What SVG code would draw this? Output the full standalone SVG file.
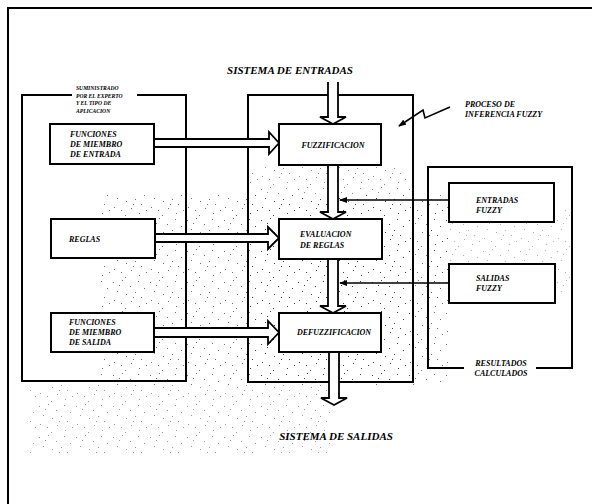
<svg xmlns="http://www.w3.org/2000/svg" width="592" height="504" viewBox="0 0 592 504">
<defs>
<style>
.frame{fill:none;stroke:#000;stroke-width:2}
.box{fill:#fff;stroke:#000;stroke-width:2}
.arr{fill:#fff;stroke:#000;stroke-width:1.8;stroke-linejoin:miter}
.ln{fill:none;stroke:#000;stroke-width:1.6}
.t{font-family:"Liberation Serif","Times New Roman",serif;font-weight:bold;font-style:italic;fill:#000}
.s8{font-size:8px}
.s6{font-size:5.6px}
.s11{font-size:11px}
</style>
<pattern id="dots" width="37" height="31" patternUnits="userSpaceOnUse">
<rect x="2" y="3" width="1" height="1" fill="#000"/>
<rect x="11" y="1" width="1" height="1" fill="#000"/>
<rect x="19" y="7" width="1" height="1" fill="#000"/>
<rect x="27" y="2" width="1" height="1" fill="#000"/>
<rect x="33" y="9" width="1" height="1" fill="#000"/>
<rect x="6" y="12" width="1" height="1" fill="#000"/>
<rect x="15" y="15" width="1" height="1" fill="#000"/>
<rect x="24" y="13" width="1" height="1" fill="#000"/>
<rect x="30" y="18" width="1" height="1" fill="#000"/>
<rect x="3" y="21" width="1" height="1" fill="#000"/>
<rect x="10" y="24" width="1" height="1" fill="#000"/>
<rect x="20" y="22" width="1" height="1" fill="#000"/>
<rect x="28" y="27" width="1" height="1" fill="#000"/>
<rect x="35" y="24" width="1" height="1" fill="#000"/>
<rect x="14" y="29" width="1" height="1" fill="#000"/>
<rect x="8" y="6" width="1" height="1" fill="#000"/>
<rect x="22" y="18" width="1" height="1" fill="#000"/>
</pattern>
<marker id="ah" markerWidth="8" markerHeight="6" refX="7" refY="3" orient="auto" markerUnits="userSpaceOnUse">
<path d="M0,0 L8,3 L0,6 Z" fill="#000"/>
</marker>
</defs>
<rect width="592" height="504" fill="#fff"/>
<!-- stipple texture -->
<rect x="100" y="195" width="350" height="190" fill="url(#dots)" opacity="0.55"/>
<rect x="250" y="165" width="160" height="215" fill="url(#dots)" opacity="0.45"/>
<rect x="30" y="385" width="300" height="70" fill="url(#dots)" opacity="0.4"/>
<rect x="430" y="210" width="140" height="90" fill="url(#dots)" opacity="0.3"/>

<!-- outer frame -->
<path class="frame" d="M8,504 V8 H592"/>

<text class="t s11" x="290" y="74" text-anchor="middle">SISTEMA DE ENTRADAS</text>
<text class="t s11" x="336" y="440" text-anchor="middle">SISTEMA DE SALIDAS</text>

<!-- group boxes -->
<g id="grupo-experto">
<path class="frame" d="M72,95 H22 V381 H186 V95 H137"/>
<text class="t s6" x="76" y="90">SUMINISTRADO</text>
<text class="t s6" x="76" y="97.5">POR EL EXPERTO</text>
<text class="t s6" x="76" y="105">Y EL TIPO DE</text>
<text class="t s6" x="76" y="112.5">APLICACION</text>
</g>
<g id="grupo-proceso">
<rect class="frame" x="248" y="95" width="165" height="287"/>
<text class="t s8" x="465" y="107">PROCESO DE</text>
<text class="t s8" x="465" y="117">INFERENCIA FUZZY</text>
</g>
<g id="grupo-resultados">
<path class="frame" d="M464,368 H428 V167 H572 V368 H536"/>
<text class="t s8" x="501" y="366" text-anchor="middle">RESULTADOS</text>
<text class="t s8" x="501" y="376" text-anchor="middle">CALCULADOS</text>
</g>

<!-- connectors -->
<g id="conectores">
<path class="arr" d="M328,82 V117 H320 L333,124 L346,117 H338 V82"/>
<path class="arr" d="M328,165 V212 H320 L333,219 L346,212 H338 V165"/>
<path class="arr" d="M328,259 V306 H320 L333,313 L346,306 H338 V259"/>
<path class="arr" d="M329,352 V398 H321 L334,405 L347,398 H339 V352"/>
<path class="arr" d="M154,139 H269 V132 L279,143 L269,154 V147 H154"/>
<path class="arr" d="M155,234 H268 V227 L279,238 L268,249 V242 H155"/>
<path class="arr" d="M154,328 H268 V321 L279,332.5 L268,344 V337 H154"/>
<path class="ln" d="M449,200 H340" marker-end="url(#ah)"/>
<path class="ln" d="M449,283 H340" marker-end="url(#ah)"/>
<path class="ln" d="M450,107 L425,118 L423,110 L399,126" marker-end="url(#ah)"/>
</g>

<!-- nodes -->
<g id="funciones-entrada">
<rect class="box" x="50" y="124" width="104" height="40"/>
<text class="t s8" x="70" y="137">FUNCIONES</text>
<text class="t s8" x="70" y="147">DE MIEMBRO</text>
<text class="t s8" x="70" y="157">DE ENTRADA</text>
</g>
<g id="reglas">
<rect class="box" x="51" y="219" width="104" height="39"/>
<text class="t s8" x="69" y="242">REGLAS</text>
</g>
<g id="funciones-salida">
<rect class="box" x="51" y="313" width="103" height="39"/>
<text class="t s8" x="69" y="325">FUNCIONES</text>
<text class="t s8" x="69" y="335">DE MIEMBRO</text>
<text class="t s8" x="69" y="345">DE SALIDA</text>
</g>
<g id="fuzzificacion">
<rect class="box" x="279" y="124" width="102" height="41"/>
<text class="t s8" x="333" y="148" text-anchor="middle">FUZZIFICACION</text>
</g>
<g id="evaluacion">
<rect class="box" x="279" y="219" width="103" height="40"/>
<text class="t s8" x="300" y="237">EVALUACION</text>
<text class="t s8" x="300" y="248">DE REGLAS</text>
</g>
<g id="defuzzificacion">
<rect class="box" x="279" y="313" width="102" height="39"/>
<text class="t s8" x="334" y="335" text-anchor="middle">DEFUZZIFICACION</text>
</g>
<g id="entradas-fuzzy">
<rect class="box" x="449" y="183" width="105" height="39"/>
<text class="t s8" x="476" y="203">ENTRADAS</text>
<text class="t s8" x="476" y="213">FUZZY</text>
</g>
<g id="salidas-fuzzy">
<rect class="box" x="449" y="264" width="106" height="39"/>
<text class="t s8" x="476" y="281">SALIDAS</text>
<text class="t s8" x="476" y="291">FUZZY</text>
</g>
</svg>
